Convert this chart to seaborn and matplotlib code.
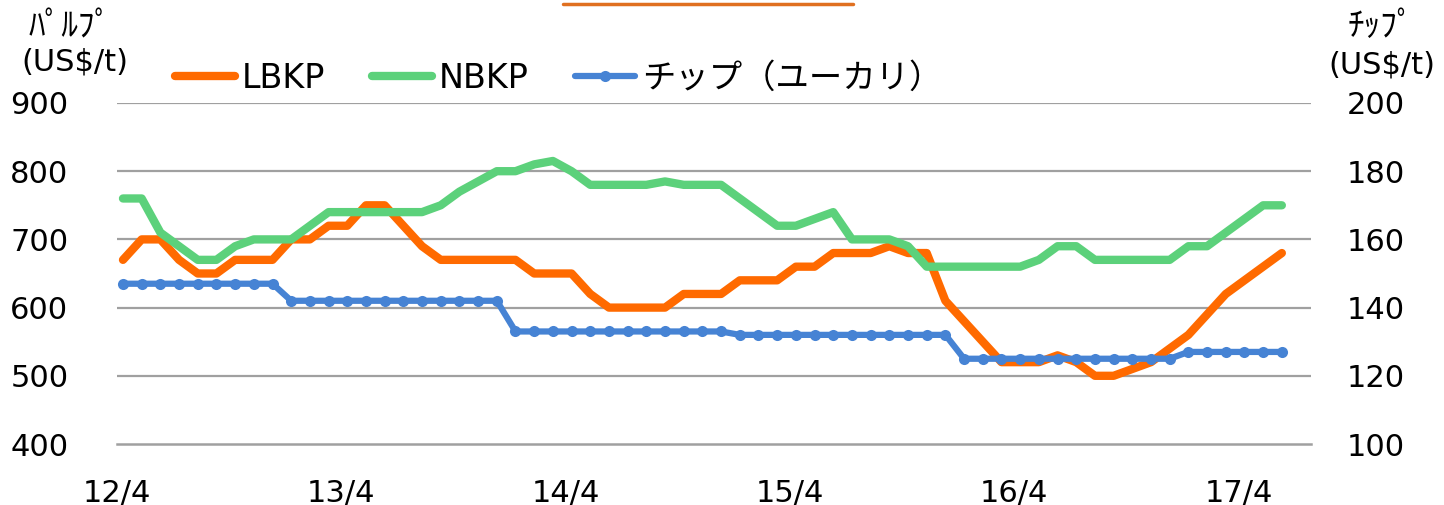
import numpy as np
import pandas as pd
import matplotlib
matplotlib.use("Agg")
import matplotlib.pyplot as plt
import seaborn as sns
from matplotlib.lines import Line2D

# ---- data (monthly, 2012/4 .. 2017/6) ----
months = list(range(63))
lbkp = [670, 700, 700, 670, 650, 650, 670, 670, 670, 700,
        700, 720, 720, 750, 750, 720, 690, 670, 670, 670,
        670, 670, 650, 650, 650, 620, 600, 600, 600, 600,
        620, 620, 620, 640, 640, 640, 660, 660, 680, 680,
        680, 690, 680, 680, 610, 580, 550, 520, 520, 520,
        530, 520, 500, 500, 510, 520, 540, 560, 590, 620,
        640, 660, 680]
nbkp = [760, 760, 710, 690, 670, 670, 690, 700, 700, 700,
        720, 740, 740, 740, 740, 740, 740, 750, 770, 785,
        800, 800, 810, 815, 800, 780, 780, 780, 780, 785,
        780, 780, 780, 760, 740, 720, 720, 730, 740, 700,
        700, 700, 690, 660, 660, 660, 660, 660, 660, 670,
        690, 690, 670, 670, 670, 670, 670, 690, 690, 710,
        730, 750, 750]
chip = [147] * 9 + [142] * 12 + [133] * 12 + [132] * 12 + [125] * 12 + [127] * 6
x_tick_labels = ["12/4", "13/4", "14/4", "15/4", "16/4", "17/4"]
series_names = ["LBKP", "NBKP", "チップ（ユーカリ）"]

ORANGE = "#FF6A00"
GREEN = "#5CD17B"
BLUE = "#4683D4"
GRID = "#A0A0A0"

sns.set_style("white")
plt.rcParams['font.family'] = ['DejaVu Sans', 'Noto Sans CJK JP']
plt.rcParams['text.color'] = 'black'
plt.rcParams['xtick.labelcolor'] = 'black'
plt.rcParams['ytick.labelcolor'] = 'black'

df = pd.DataFrame({"m": months, "LBKP": lbkp, "NBKP": nbkp, "chip": chip})

fig = plt.figure(figsize=(14.44, 5.05), dpi=100)
ax = fig.add_axes([117 / 1444, 1 - 444 / 505, (1311 - 117) / 1444, (444 - 103) / 505])
ax2 = ax.twinx()

sns.lineplot(data=df, x="m", y="LBKP", ax=ax, color=ORANGE, lw=6,
             solid_capstyle="round", solid_joinstyle="round", legend=False, zorder=3)
sns.lineplot(data=df, x="m", y="NBKP", ax=ax, color=GREEN, lw=6,
             solid_capstyle="round", solid_joinstyle="round", legend=False, zorder=4)
sns.lineplot(data=df, x="m", y="chip", ax=ax2, color=BLUE, lw=4.5,
             marker="o", markersize=8, markeredgewidth=0, solid_capstyle="round",
             solid_joinstyle="round", legend=False, zorder=5)

xmin, xmax = -0.32, 63.56
ax.set_xlim(xmin, xmax)
ax.set_ylim(400, 900)
ax2.set_ylim(100, 200)

ax.set_yticks([400, 500, 600, 700, 800, 900])
ax2.set_yticks([100, 120, 140, 160, 180, 200])
ax.set_xticks([xmin + 12 * k for k in range(6)])
ax.set_xticklabels(x_tick_labels)

for a in (ax, ax2):
    for s in a.spines.values():
        s.set_visible(False)
    a.set_xlabel("")
    a.set_ylabel("")

ax.spines["bottom"].set_visible(True)
ax.spines["bottom"].set_color(GRID)
ax.spines["bottom"].set_linewidth(1.8)

ax.grid(False)
ax2.grid(False)
for v in [500, 600, 700, 800, 900]:
    ax.axhline(v, color=GRID, lw=1.6, zorder=1)

ax.tick_params(axis="y", length=0, labelsize=22, pad=35)
ax2.tick_params(axis="y", length=0, labelsize=22, pad=26)
ax.tick_params(axis="x", direction="in", length=10, width=1.2, color=GRID,
               labelsize=22, pad=25)

# axis titles
fig.text(70 / 1444, 1 - 27 / 505, "ﾊﾟﾙﾌﾟ", ha="center", va="center", fontsize=24,
         family=['Noto Sans CJK JP', 'DejaVu Sans'])
fig.text(75 / 1444, 1 - 62 / 505, "(US$/t)", ha="center", va="center", fontsize=22)
fig.text(1381 / 1444, 1 - 27 / 505, "ﾁｯﾌﾟ", ha="center", va="center", fontsize=24,
         family=['Noto Sans CJK JP', 'DejaVu Sans'])
fig.text(1382 / 1444, 1 - 65 / 505, "(US$/t)", ha="center", va="center", fontsize=22)

# legend
handles = [Line2D([], [], color=ORANGE, lw=6, solid_capstyle="round"),
           Line2D([], [], color=GREEN, lw=6, solid_capstyle="round"),
           Line2D([], [], color=BLUE, lw=4.5, marker="o", markersize=8,
                  markeredgewidth=0, solid_capstyle="round")]
fig.legend(handles, series_names, loc="center left",
           bbox_to_anchor=(175 / 1444, 1 - 78 / 505), ncol=3, frameon=False,
           fontsize=24, handlelength=1.8, handletextpad=0.2, columnspacing=1.4,
           borderpad=0, borderaxespad=0)

# cropped title underline at the very top
fig.add_artist(Line2D([563 / 1444, 853 / 1444], [1 - 4 / 505, 1 - 4 / 505],
                      color="#E07020", lw=2.5, transform=fig.transFigure))

fig.savefig("out.png", dpi=100)
